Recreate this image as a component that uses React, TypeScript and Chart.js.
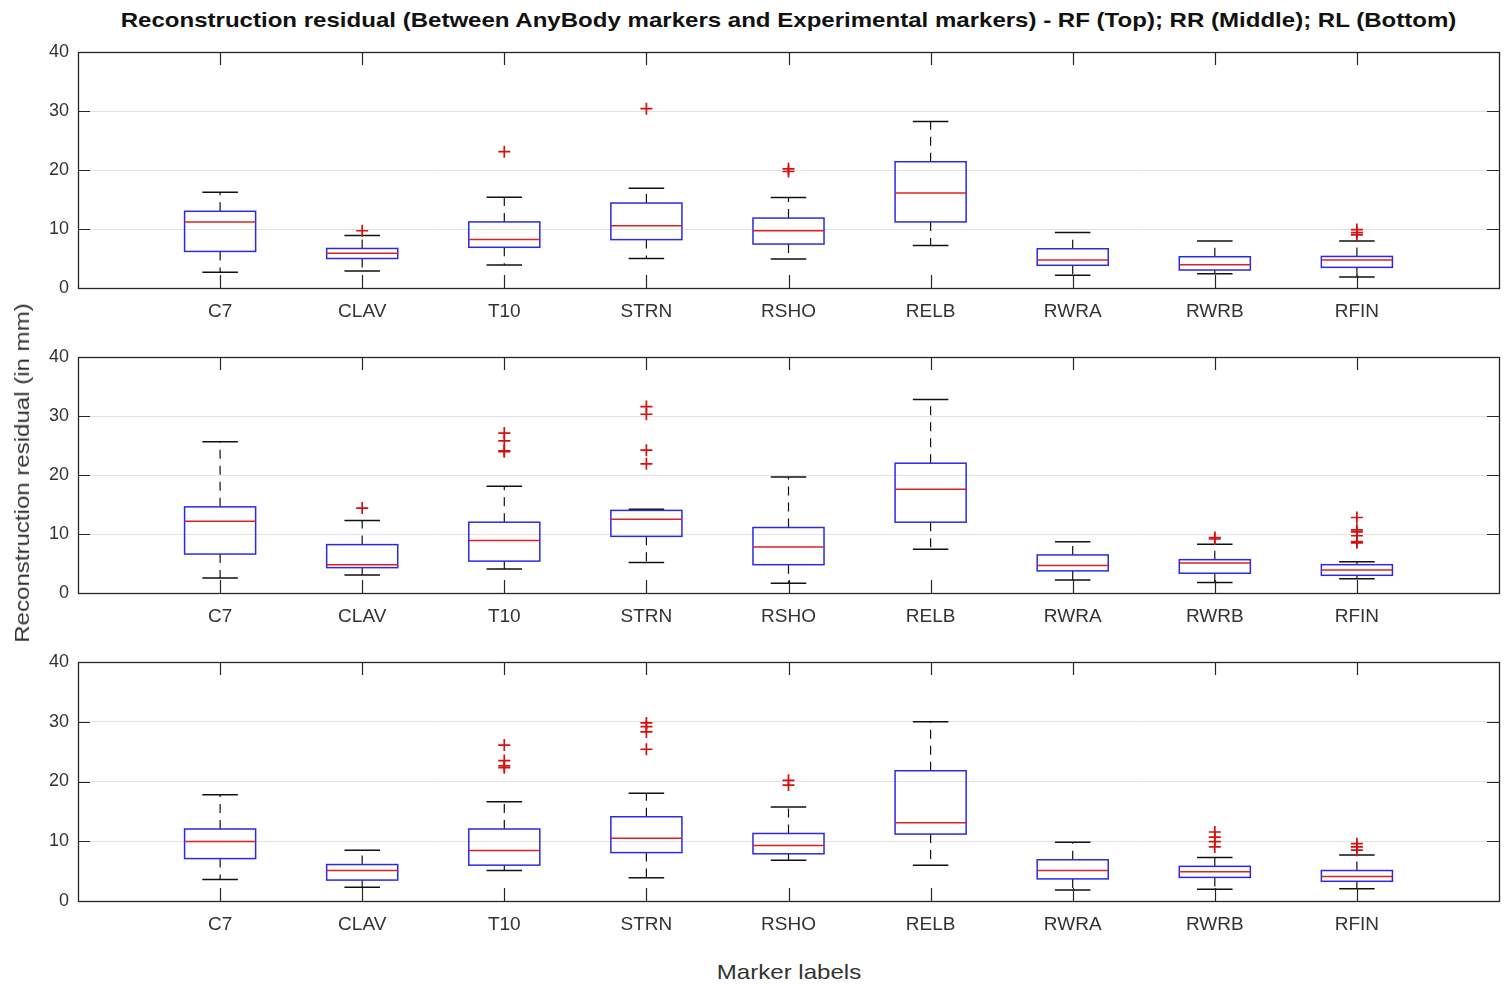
import React, { useEffect, useRef } from "react";
import { Chart, registerables } from "chart.js";

Chart.register(...registerables);

const categories = ["C7", "CLAV", "T10", "STRN", "RSHO", "RELB", "RWRA", "RWRB", "RFIN"];
const yTickValues = [0, 10, 20, 30, 40];

// RF (Top)
const rfLow = [2.65, 2.9, 3.9, 5.0, 4.9, 7.2, 2.15, 2.4, 1.85];
const rfQ1 = [6.2, 5.0, 6.9, 8.2, 7.45, 11.2, 3.85, 3.05, 3.5];
const rfMed = [11.2, 5.9, 8.2, 10.55, 9.7, 16.1, 4.75, 3.95, 4.75];
const rfQ3 = [13.0, 6.7, 11.2, 14.4, 11.85, 21.4, 6.65, 5.3, 5.35];
const rfHigh = [16.25, 8.9, 15.4, 16.9, 15.35, 28.2, 9.4, 7.95, 7.95];
const rfOut = [[], [9.7], [23.1], [30.4], [20.2, 19.75], [], [], [], [9.9, 9.4, 9.0]];

// RR (Middle)
const rrLow = [2.55, 3.05, 4.05, 5.15, 1.65, 7.4, 2.2, 1.8, 2.4];
const rrQ1 = [6.6, 4.3, 5.4, 9.6, 4.8, 12.0, 3.75, 3.35, 3.0];
const rrMed = [12.15, 4.8, 8.9, 12.5, 7.8, 17.6, 4.65, 5.1, 3.9];
const rrQ3 = [14.6, 8.2, 12.0, 14.0, 11.1, 22.0, 6.45, 5.65, 4.8];
const rrHigh = [25.65, 12.3, 18.1, 14.2, 19.65, 32.8, 8.7, 8.25, 5.3];
const rrOut = [[], [14.4], [27.1, 25.8, 24.1, 23.95], [31.6, 30.3, 24.2, 21.9], [], [], [], [9.4, 9.15], [12.8, 10.7, 10.35, 9.7, 8.7, 8.5]];

// RL (Bottom)
const rlLow = [3.6, 2.3, 5.1, 3.9, 6.8, 6.0, 1.85, 1.95, 2.05];
const rlQ1 = [7.1, 3.5, 6.0, 8.1, 7.9, 11.2, 3.7, 3.95, 3.3];
const rlMed = [9.95, 5.1, 8.45, 10.5, 9.3, 13.1, 5.1, 4.9, 4.1];
const rlQ3 = [12.05, 6.1, 12.05, 14.1, 11.3, 21.8, 6.9, 5.8, 5.1];
const rlHigh = [17.8, 8.5, 16.6, 18.05, 15.75, 30.0, 9.85, 7.3, 7.7];
const rlOut = [[], [], [26.1, 23.5, 22.6, 22.3], [29.8, 29.2, 28.3, 25.4], [20.2, 19.4], [], [], [11.55, 10.7, 9.95, 9.05], [9.6, 9.05, 8.5]];

const FONT = '"Liberation Sans", Arial, Helvetica, sans-serif';
const BOX_W = 0.5;
const CAP_W = 0.25;
const STRETCH = 1.145;

type PanelData = {
  low: number[];
  q1: number[];
  med: number[];
  q3: number[];
  high: number[];
  out: number[][];
};

const panels: { data: PanelData; top: number; bottom: number }[] = [
  { data: { low: rfLow, q1: rfQ1, med: rfMed, q3: rfQ3, high: rfHigh, out: rfOut }, top: 52, bottom: 288 },
  { data: { low: rrLow, q1: rrQ1, med: rrMed, q3: rrQ3, high: rrHigh, out: rrOut }, top: 357, bottom: 593 },
  { data: { low: rlLow, q1: rlQ1, med: rlMed, q3: rlQ3, high: rlHigh, out: rlOut }, top: 662, bottom: 901 },
];

const PAD_TOP = 20;
const XAXIS_H = 45;

function makeBoxPlugin(d: PanelData) {
  return {
    id: "boxes",
    beforeDatasetsDraw(chart: any) {
      const ctx = chart.ctx;
      const xs = chart.scales.x;
      const ys = chart.scales.y;
      ctx.save();
      categories.forEach((_, i) => {
        const xv = i + 1;
        const xc = xs.getPixelForValue(xv);
        const bl = xs.getPixelForValue(xv - BOX_W / 2);
        const br = xs.getPixelForValue(xv + BOX_W / 2);
        const cl = xs.getPixelForValue(xv - CAP_W / 2);
        const cr = xs.getPixelForValue(xv + CAP_W / 2);
        const yLow = ys.getPixelForValue(d.low[i]);
        const yQ1 = ys.getPixelForValue(d.q1[i]);
        const yMed = ys.getPixelForValue(d.med[i]);
        const yQ3 = ys.getPixelForValue(d.q3[i]);
        const yHigh = ys.getPixelForValue(d.high[i]);
        // whiskers (dashed)
        ctx.strokeStyle = "#111111";
        ctx.lineWidth = 1.2;
        ctx.setLineDash([9, 7]);
        ctx.beginPath();
        ctx.moveTo(xc, yQ3);
        ctx.lineTo(xc, yHigh);
        ctx.moveTo(xc, yQ1);
        ctx.lineTo(xc, yLow);
        ctx.stroke();
        ctx.setLineDash([]);
        // caps
        ctx.lineWidth = 1.5;
        ctx.beginPath();
        ctx.moveTo(cl, yHigh);
        ctx.lineTo(cr, yHigh);
        ctx.moveTo(cl, yLow);
        ctx.lineTo(cr, yLow);
        ctx.stroke();
        // box
        ctx.strokeStyle = "#2a2ae6";
        ctx.lineWidth = 1.5;
        ctx.strokeRect(bl, yQ3, br - bl, yQ1 - yQ3);
        // median
        ctx.strokeStyle = "#e02020";
        ctx.lineWidth = 1.5;
        ctx.beginPath();
        ctx.moveTo(bl, yMed);
        ctx.lineTo(br, yMed);
        ctx.stroke();
      });
      ctx.restore();
    },
    afterDraw(chart: any) {
      const ctx = chart.ctx;
      const a = chart.chartArea;
      const xs = chart.scales.x;
      const ys = chart.scales.y;
      ctx.save();
      ctx.strokeStyle = "#262626";
      ctx.lineWidth = 1.2;
      ctx.beginPath();
      categories.forEach((_, i) => {
        const x = Math.round(xs.getPixelForValue(i + 1)) + 0.5;
        ctx.moveTo(x, a.top);
        ctx.lineTo(x, a.top + 13);
        ctx.moveTo(x, a.bottom);
        ctx.lineTo(x, a.bottom - 13);
      });
      yTickValues.forEach((v) => {
        const y = Math.round(ys.getPixelForValue(v)) + 0.5;
        ctx.moveTo(a.left, y);
        ctx.lineTo(a.left + 12, y);
        ctx.moveTo(a.right, y);
        ctx.lineTo(a.right - 12, y);
      });
      ctx.stroke();
      ctx.lineWidth = 1.3;
      ctx.strokeRect(Math.round(a.left) + 0.5, Math.round(a.top) + 0.5, Math.round(a.right - a.left), Math.round(a.bottom - a.top));
      ctx.restore();
    },
  };
}

function Panel({ data, top, bottom }: { data: PanelData; top: number; bottom: number }) {
  const ref = useRef<HTMLCanvasElement | null>(null);
  const height = bottom - top + PAD_TOP + XAXIS_H;
  useEffect(() => {
    if (!ref.current) return;
    const pts: { x: number; y: number }[] = [];
    data.out.forEach((arr, i) => arr.forEach((v) => pts.push({ x: i + 1, y: v })));
    const chart = new Chart(ref.current, {
      type: "scatter",
      data: {
        datasets: [
          {
            data: pts,
            pointStyle: "cross",
            pointRadius: 6,
            pointBorderWidth: 1.7,
            borderColor: "#d41010",
            backgroundColor: "#d41010",
          } as any,
        ],
      },
      options: {
        responsive: false,
        animation: false,
        devicePixelRatio: 1,
        layout: { padding: { top: PAD_TOP, right: 12, left: 0, bottom: 0 } },
        plugins: { legend: { display: false }, tooltip: { enabled: false }, title: { display: false } },
        scales: {
          x: {
            type: "linear",
            min: 0,
            max: 10,
            afterBuildTicks: (s: any) => {
              s.ticks = categories.map((_, i) => ({ value: i + 1 }));
            },
            afterFit: (s: any) => {
              s.height = XAXIS_H;
            },
            grid: { display: false, drawTicks: false },
            border: { display: false },
            ticks: {
              autoSkip: false,
              maxRotation: 0,
              padding: 12,
              color: "#333333",
              font: { family: FONT, size: 19 },
              callback: (v: any) => categories[Number(v) - 1] ?? "",
            },
          },
          y: {
            type: "linear",
            min: 0,
            max: 40,
            afterBuildTicks: (s: any) => {
              s.ticks = yTickValues.map((v) => ({ value: v }));
            },
            afterFit: (s: any) => {
              s.width = 78;
            },
            grid: { color: "#e3e3e3", lineWidth: 1, drawTicks: false },
            border: { display: false },
            ticks: {
              padding: 9,
              color: "#333333",
              font: { family: FONT, size: 18 },
            },
          },
        },
      } as any,
      plugins: [makeBoxPlugin(data)],
    });
    return () => chart.destroy();
  }, []);
  return (
    <canvas
      ref={ref}
      width={1511}
      height={height}
      style={{ position: "absolute", left: 0, top: top - PAD_TOP, width: 1511, height }}
    />
  );
}

export default function App() {
  return (
    <div style={{ position: "absolute", left: 0, top: 0, width: 1511, height: 987, background: "#ffffff", overflow: "hidden", fontFamily: FONT }}>
      <div
        style={{
          position: "absolute",
          left: 78,
          width: 1421,
          top: 7,
          textAlign: "center",
          fontWeight: "bold",
          fontSize: 21,
          lineHeight: "26px",
          color: "#111111",
          whiteSpace: "nowrap",
          transform: `scaleX(${STRETCH})`,
          transformOrigin: "50% 50%",
        }}
      >
        Reconstruction residual (Between AnyBody markers and Experimental markers) - RF (Top); RR (Middle); RL (Bottom)
      </div>
      {panels.map((p, i) => (
        <Panel key={i} data={p.data} top={p.top} bottom={p.bottom} />
      ))}
      <div
        style={{
          position: "absolute",
          left: 22,
          top: 473,
          transform: `translate(-50%, -50%) rotate(-90deg) scaleX(${STRETCH})`,
          fontSize: 21,
          color: "#333333",
          whiteSpace: "nowrap",
        }}
      >
        Reconstruction residual (in mm)
      </div>
      <div
        style={{
          position: "absolute",
          left: 789,
          top: 972,
          transform: `translate(-50%, -50%) scaleX(${STRETCH})`,
          fontSize: 21,
          color: "#333333",
          whiteSpace: "nowrap",
        }}
      >
        Marker labels
      </div>
    </div>
  );
}
